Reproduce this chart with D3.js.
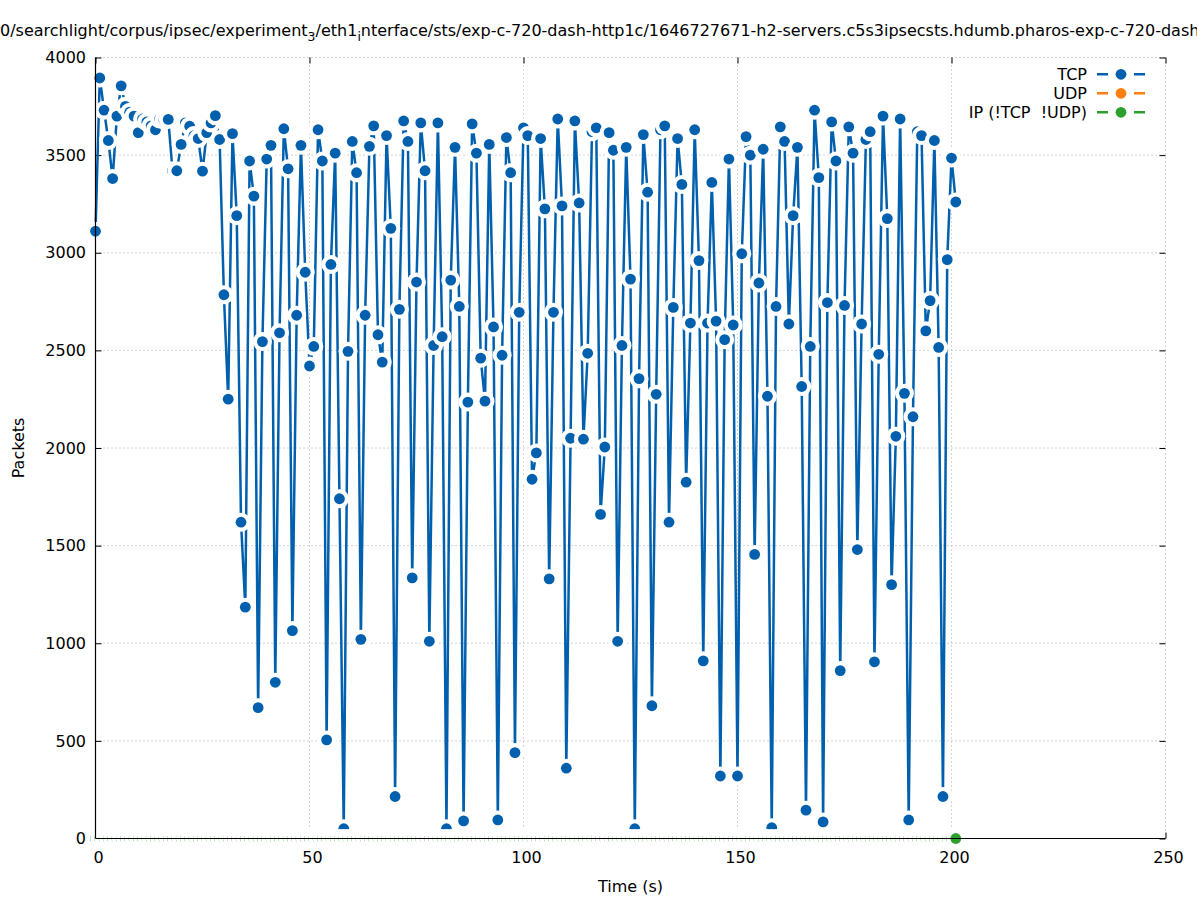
<!DOCTYPE html>
<html><head><meta charset="utf-8">
<script src="https://cdn.jsdelivr.net/npm/d3@7"></script>
<style>
body{margin:0;background:#fff}
svg{display:block;font-family:"DejaVu Sans",sans-serif}
</style>
</head><body>
<svg id="chart" width="1197" height="900"></svg>
<script>
// ---------- data ----------
const times = [
  0,1,2,3,4,5,6,7,8,9,10,11,12,13,14,15,16,17,18,19,
  20,21,22,23,24,25,26,27,28,29,30,31,32,33,34,35,36,37,38,39,
  40,41,42,43,44,45,46,47,48,49,50,51,52,53,54,55,56,57,58,59,
  60,61,62,63,64,65,66,67,68,69,70,71,72,73,74,75,76,77,78,79,
  80,81,82,83,84,85,86,87,88,89,90,91,92,93,94,95,96,97,98,99,
  100,101,102,103,104,105,106,107,108,109,110,111,112,113,114,115,116,117,118,119,
  120,121,122,123,124,125,126,127,128,129,130,131,132,133,134,135,136,137,138,139,
  140,141,142,143,144,145,146,147,148,149,150,151,152,153,154,155,156,157,158,159,
  160,161,162,163,164,165,166,167,168,169,170,171,172,173,174,175,176,177,178,179,
  180,181,182,183,184,185,186,187,188,189,190,191,192,193,194,195,196,197,198,199,
  200,201
];
const tcpPackets = [
  3110,3895,3730,3575,3380,3700,3855,3750,3720,3700,
  3615,3685,3670,3650,3630,3685,3680,3683,3420,3420,
  3555,3665,3648,3600,3585,3418,3615,3665,3702,3580,
  2785,2250,3610,3190,1620,1185,3470,3290,670,2545,
  3480,3550,800,2590,3635,3430,1065,2680,3550,2900,
  2420,2520,3630,3470,505,2940,3510,1740,50,2495,
  3570,3410,1020,2680,3545,3650,2580,2440,3600,3125,
  215,2710,3675,3570,1335,2850,3665,3420,1010,2525,
  3665,2570,50,2860,3540,2725,90,2235,3660,3510,
  2460,2240,3555,2620,95,2475,3590,3410,440,2695,
  3640,3600,1840,1975,3585,3225,1330,2695,3685,3240,
  360,2050,3675,3255,2045,2485,3620,3640,1660,2005,
  3615,3525,1010,2525,3540,2865,50,2355,3605,3310,
  680,2275,3630,3650,1620,2720,3585,3350,1825,2640,
  3630,2960,910,2640,3360,2650,320,2555,3480,2630,
  320,2995,3595,3500,1455,2845,3530,2265,55,2725,
  3645,3570,2635,3190,3540,2315,145,2520,3730,3385,
  85,2745,3670,3470,860,2730,3645,3510,1480,2635,
  3580,3620,905,2480,3700,3175,1300,2060,3685,2280,
  95,2160,3620,3600,2600,2755,3575,2515,215,2965,
  3485,3260
];
const udpPackets = [];
const ipPackets = [
  0,0,0,0,0,0,0,0,0,0,0,0,0,0,0,0,0,0,0,0,
  0,0,0,0,0,0,0,0,0,0,0,0,0,0,0,0,0,0,0,0,
  0,0,0,0,0,0,0,0,0,0,0,0,0,0,0,0,0,0,0,0,
  0,0,0,0,0,0,0,0,0,0,0,0,0,0,0,0,0,0,0,0,
  0,0,0,0,0,0,0,0,0,0,0,0,0,0,0,0,0,0,0,0,
  0,0,0,0,0,0,0,0,0,0,0,0,0,0,0,0,0,0,0,0,
  0,0,0,0,0,0,0,0,0,0,0,0,0,0,0,0,0,0,0,0,
  0,0,0,0,0,0,0,0,0,0,0,0,0,0,0,0,0,0,0,0,
  0,0,0,0,0,0,0,0,0,0,0,0,0,0,0,0,0,0,0,0,
  0,0,0,0,0,0,0,0,0,0,0,0,0,0,0,0,0,0,0,0,
  0,0
];
const seriesNames = ["TCP", "UDP", "IP (!TCP  !UDP)"];
const seriesColors = ["#0060ad", "#ff7f0e", "#2ca02c"];
const xTicks = [0, 50, 100, 150, 200, 250];
const yTicks = [0, 500, 1000, 1500, 2000, 2500, 3000, 3500, 4000];
const xLabel = "Time (s)";
const yLabel = "Packets";

// ---------- layout ----------
const svg = d3.select("#chart");
const pLeft = 95.5, pRight = 1165.5, pTop = 57.5, pBottom = 838.5;
const x = d3.scaleLinear().domain([0, 250]).range([pLeft, pRight]);
const y = d3.scaleLinear().domain([0, 4000]).range([pBottom, pTop]);
const FS = 16;
const dotR = 5.4, gapR = 9.5;

// grid (back)
const grid = svg.append("g").attr("stroke", "#a8a8a8").attr("stroke-width", 1)
  .attr("stroke-dasharray", "1,3");
grid.selectAll("line.gx").data(xTicks).join("line").attr("class", "gx")
  .attr("x1", d => x(d)).attr("x2", d => x(d)).attr("y1", pTop).attr("y2", pBottom);
grid.selectAll("line.gy").data(yTicks).join("line").attr("class", "gy")
  .attr("y1", d => y(d)).attr("y2", d => y(d)).attr("x1", pLeft).attr("x2", pRight);

// axes (ticks, back)
function styleAxis(g) {
  g.select(".domain").remove();
  g.selectAll(".tick line").attr("stroke", "#000").attr("stroke-width", 1);
  g.selectAll(".tick text").attr("fill", "#000").attr("font-size", FS)
    .attr("font-family", '"DejaVu Sans",sans-serif');
}
const fmt = d3.format("d");
svg.append("g").attr("transform", `translate(0,${pBottom})`)
  .call(d3.axisBottom(x).tickValues(xTicks).tickFormat(fmt).tickSizeInner(-6).tickSizeOuter(0).tickPadding(13.5))
  .call(styleAxis)
  .call(g => g.selectAll(".tick text").attr("x", 2.5));
svg.append("g").attr("transform", `translate(0,${pTop})`)
  .call(d3.axisTop(x).tickValues(xTicks).tickSizeInner(-6).tickSizeOuter(0).tickFormat(""))
  .call(styleAxis);
svg.append("g").attr("transform", `translate(${pLeft},0)`)
  .call(d3.axisLeft(y).tickValues(yTicks).tickFormat(fmt).tickSizeInner(-6).tickSizeOuter(0).tickPadding(9.5))
  .call(styleAxis);
svg.append("g").attr("transform", `translate(${pRight},0)`)
  .call(d3.axisRight(y).tickValues(yTicks).tickSizeInner(-6).tickSizeOuter(0).tickFormat(""))
  .call(styleAxis);

// series
function drawSeries(values, color) {
  const pts = values.map((v, i) => [times[i], v]);
  if (!pts.length) return;
  const line = d3.line().x(d => x(d[0])).y(d => y(d[1]));
  svg.append("path").datum(pts).attr("d", line).attr("fill", "none")
    .attr("stroke", color).attr("stroke-width", 2.5).attr("stroke-linejoin", "round");
  const g = svg.append("g");
  const pg = g.selectAll("g").data(pts).join("g")
    .attr("transform", d => `translate(${x(d[0])},${y(d[1])})`);
  pg.append("circle").attr("r", gapR).attr("fill", "#fff");
  pg.append("circle").attr("r", dotR).attr("fill", color);
}
drawSeries(tcpPackets, seriesColors[0]);
drawSeries(udpPackets, seriesColors[1]);
drawSeries(ipPackets, seriesColors[2]);

// border (front): left and bottom
svg.append("line").attr("x1", pLeft).attr("x2", pLeft).attr("y1", pTop).attr("y2", pBottom)
  .attr("stroke", "#000").attr("stroke-width", 1.2);
svg.append("line").attr("x1", pLeft).attr("x2", pRight).attr("y1", pBottom).attr("y2", pBottom)
  .attr("stroke", "#000").attr("stroke-width", 1.2);

// legend
const lg = svg.append("g");
const rows = lg.selectAll("g").data(seriesNames).join("g")
  .attr("transform", (d, i) => `translate(0,${74.3 + i * 19})`);
rows.append("text").attr("x", 1087).attr("y", 5.8).attr("text-anchor", "end")
  .attr("font-size", FS).attr("fill", "#000").style("white-space", "pre").text(d => d);
rows.append("line").attr("x1", 1097).attr("x2", 1145).attr("y1", 0).attr("y2", 0)
  .attr("stroke", (d, i) => seriesColors[i]).attr("stroke-width", 2.5);
rows.append("circle").attr("cx", 1121).attr("r", 13).attr("fill", "#fff");
rows.append("circle").attr("cx", 1121).attr("r", dotR).attr("fill", (d, i) => seriesColors[i]);

// axis labels
svg.append("text").attr("x", 630.5).attr("y", 892).attr("text-anchor", "middle")
  .attr("font-size", FS).attr("fill", "#000").text(xLabel);
svg.append("text").attr("transform", "translate(24,448) rotate(-90)").attr("text-anchor", "middle")
  .attr("font-size", FS).attr("fill", "#000").text(yLabel);

// title (runs past both edges, as in the reference)
const title = svg.append("text").attr("x", -6.6).attr("y", 36).attr("font-size", FS).attr("fill", "#000");
title.append("tspan").text("r0/searchlight/corpus/ipsec/experiment");
title.append("tspan").attr("font-size", 12.5).attr("dy", 5).text("3");
title.append("tspan").attr("dy", -5).text("/eth1");
title.append("tspan").attr("font-size", 12.5).attr("dy", 5).text("i");
title.append("tspan").attr("dy", -5).text("nterface/sts/exp-c-720-dash-http1c/1646727671-h2-servers.c5s3ipsecsts.hdumb.pharos-exp-c-720-dash-http1c");
</script>
</body></html>
